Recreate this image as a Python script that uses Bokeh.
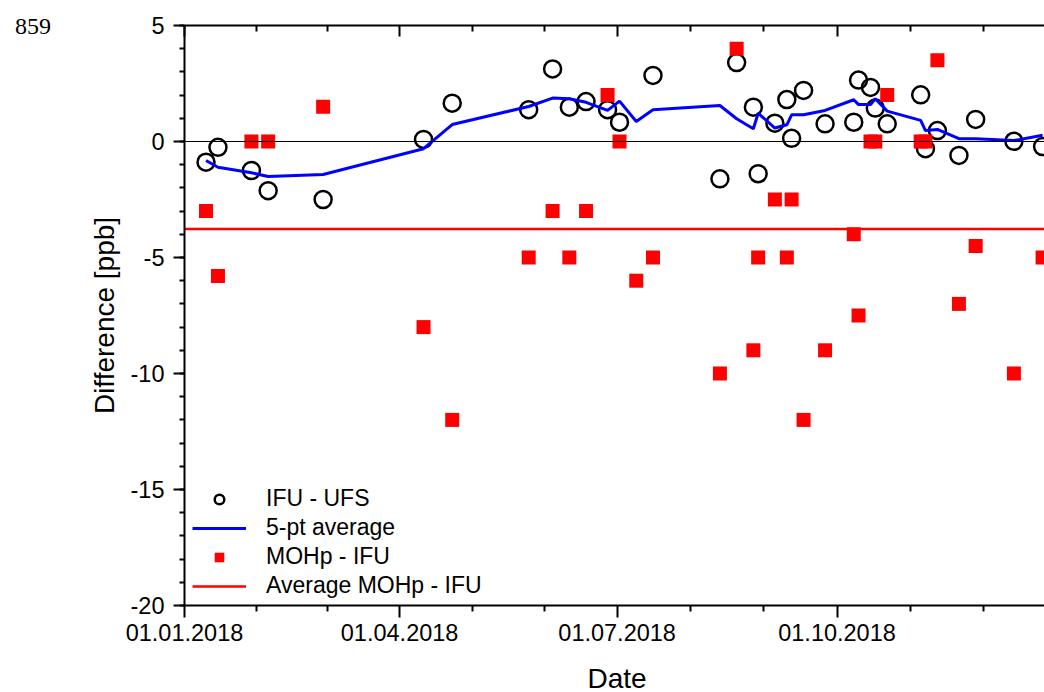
from datetime import datetime, timedelta

import numpy as np
import pandas as pd
from bokeh.embed import file_html
from bokeh.layouts import column
from bokeh.models import (CustomJSTickFormatter, DatetimeAxis, DatetimeTickFormatter, Div,
                          FixedTicker, Legend, LegendItem, Range1d,
                          SingleIntervalTicker, Span)
from bokeh.plotting import figure
from bokeh.resources import INLINE

# ---- data -------------------------------------------------------------
# IFU - UFS differences [ppb]
ifu_ufs_dates = [
    "2018-01-10", "2018-01-15", "2018-01-29", "2018-02-05", "2018-02-28",
    "2018-04-11", "2018-04-23", "2018-05-25", "2018-06-04", "2018-06-11",
    "2018-06-18", "2018-06-27", "2018-07-02", "2018-07-16", "2018-08-13",
    "2018-08-20", "2018-08-27", "2018-08-29", "2018-09-05", "2018-09-10",
    "2018-09-12", "2018-09-17", "2018-09-26", "2018-10-08", "2018-10-10",
    "2018-10-15", "2018-10-17", "2018-10-22", "2018-11-05", "2018-11-07",
    "2018-11-12", "2018-11-21", "2018-11-28", "2018-12-14", "2018-12-26",
]
ifu_ufs_diff = [
    -0.89, -0.25, -1.25, -2.12, -2.5,
    0.09, 1.65, 1.37, 3.13, 1.48,
    1.72, 1.37, 0.83, 2.85, -1.61,
    3.4, 1.48, -1.39, 0.79, 1.81,
    0.14, 2.2, 0.76, 0.83, 2.65,
    2.33, 1.44, 0.76, 2.01, -0.31,
    0.47, -0.6, 0.95, 0.01, -0.22,
]

# 5-point running average of IFU - UFS
avg5_dates = [
    "2018-01-10", "2018-01-15", "2018-01-29", "2018-02-05", "2018-02-28",
    "2018-04-11", "2018-04-23", "2018-05-25", "2018-06-04", "2018-06-11",
    "2018-06-18", "2018-06-27", "2018-07-02", "2018-07-09", "2018-07-16",
    "2018-08-13", "2018-08-20", "2018-08-27", "2018-08-29", "2018-09-05",
    "2018-09-10", "2018-09-12", "2018-09-17", "2018-09-26", "2018-10-08",
    "2018-10-10", "2018-10-15", "2018-10-17", "2018-10-22", "2018-11-05",
    "2018-11-07", "2018-11-12", "2018-11-21", "2018-11-28", "2018-12-14",
    "2018-12-26",
]
avg5_diff = [
    -0.82, -1.11, -1.35, -1.51, -1.42,
    -0.31, 0.73, 1.51, 1.87, 1.84,
    1.69, 1.34, 1.74, 0.86, 1.37,
    1.55, 0.98, 0.55, 1.22, 0.58,
    0.72, 1.15, 1.15, 1.34, 1.80,
    1.59, 1.59, 1.84, 1.31, 0.91,
    0.47, 0.52, 0.12, 0.12, 0.04,
    0.27,
]

# MOHp - IFU differences [ppb]
mohp_dates = [
    "2018-01-10", "2018-01-15", "2018-01-29", "2018-02-05", "2018-02-28",
    "2018-04-11", "2018-04-23", "2018-05-25", "2018-06-04", "2018-06-11",
    "2018-06-18", "2018-06-27", "2018-07-02", "2018-07-09", "2018-07-16",
    "2018-08-13", "2018-08-20", "2018-08-27", "2018-08-29", "2018-09-05",
    "2018-09-10", "2018-09-12", "2018-09-17", "2018-09-26", "2018-10-08",
    "2018-10-10", "2018-10-15", "2018-10-17", "2018-10-22", "2018-11-05",
    "2018-11-07", "2018-11-12", "2018-11-21", "2018-11-28", "2018-12-14",
    "2018-12-26",
]
mohp_diff = [
    -3.0, -5.8, 0.0, 0.0, 1.5,
    -8.0, -12.0, -5.0, -3.0, -5.0,
    -3.0, 2.0, 0.0, -6.0, -5.0,
    -10.0, 4.0, -9.0, -5.0, -2.5,
    -5.0, -2.5, -12.0, -9.0, -4.0,
    -7.5, 0.0, 0.0, 2.0, 0.0,
    0.0, 3.5, -7.0, -4.5, -10.0,
    -5.0,
]

major_tick_dates = ["2018-01-01", "2018-04-01", "2018-07-01", "2018-10-01", "2019-01-01"]

# ---- helpers ----------------------------------------------------------
def to_ms(d):
    return pd.Timestamp(d).value / 1e6

ifu_x = pd.to_datetime(ifu_ufs_dates)
avg_x = pd.to_datetime(avg5_dates)
mohp_x = pd.to_datetime(mohp_dates)
mohp_mean = float(np.mean(mohp_diff))

major_ms = [to_ms(d) for d in major_tick_dates]
minor_ms = []
for a, b in zip(major_ms[:-1], major_ms[1:]):
    minor_ms += [a + (b - a) / 3.0, a + 2.0 * (b - a) / 3.0]

x_start = datetime(2018, 1, 1)
x_end = x_start + timedelta(days=359.8)

FONT = "Liberation Sans"

p = figure(
    width=1044, height=692,
    x_axis_type="datetime",
    x_range=Range1d(x_start, x_end),
    y_range=Range1d(-20, 5),
    output_backend="svg",
    toolbar_location=None,
    min_border_left=184, min_border_right=0,
    min_border_top=25, min_border_bottom=87,
    background_fill_color="white",
    border_fill_color="white",
)
p.outline_line_color = None
p.xgrid.visible = False
p.ygrid.visible = False

date_fmt = DatetimeTickFormatter(
    milliseconds="%d.%m.%Y", seconds="%d.%m.%Y", minsec="%d.%m.%Y",
    minutes="%d.%m.%Y", hourmin="%d.%m.%Y", hours="%d.%m.%Y",
    days="%d.%m.%Y", months="%d.%m.%Y", years="%d.%m.%Y",
)
x_ticker = FixedTicker(ticks=major_ms, minor_ticks=minor_ms)

# bottom axis (its title is set below the tick labels as a separate text)
xa = p.xaxis[0]
xa.ticker = x_ticker
xa.formatter = date_fmt
xa.major_label_text_font = FONT
xa.major_label_text_font_size = "23.5px"
xa.major_label_text_color = "black"
xa.major_label_standoff = 6
xa.major_tick_in = 0
xa.major_tick_out = 12
xa.minor_tick_in = 0
xa.minor_tick_out = 6
xa.axis_line_width = 2
xa.major_tick_line_width = 2
xa.minor_tick_line_width = 2

# left axis
ya = p.yaxis[0]
ya.ticker = SingleIntervalTicker(interval=5, num_minor_ticks=5)
ya.formatter = CustomJSTickFormatter(code="return tick.toFixed(0);")
ya.axis_label = "Difference [ppb]"
ya.axis_label_text_font = FONT
ya.axis_label_text_font_size = "28px"
ya.axis_label_text_font_style = "normal"
ya.axis_label_text_color = "black"
ya.axis_label_standoff = 8
ya.major_label_text_font = FONT
ya.major_label_text_font_size = "23.5px"
ya.major_label_text_color = "black"
ya.major_label_standoff = 9
ya.major_tick_in = 0
ya.major_tick_out = 11
ya.minor_tick_in = 0
ya.minor_tick_out = 5
ya.axis_line_width = 2
ya.major_tick_line_width = 2
ya.minor_tick_line_width = 2

# top frame line with inward ticks, labels not drawn
top = DatetimeAxis(
    ticker=x_ticker, formatter=date_fmt,
    major_label_text_font_size="8px", major_label_text_color=None,
    major_label_standoff=0,
    major_tick_in=11, major_tick_out=0,
    minor_tick_in=6, minor_tick_out=0,
    axis_line_width=2, major_tick_line_width=2, minor_tick_line_width=2,
)
p.add_layout(top, "above")

# zero reference line
p.add_layout(Span(location=0, dimension="width", line_color="black", line_width=1))

circ = p.scatter(ifu_x, ifu_ufs_diff, marker="circle", size=17,
                 fill_color=None, line_color="black", line_width=2.5)
avg_line = p.line(avg_x, avg5_diff, line_color="#0000FF", line_width=3)
sq = p.scatter(mohp_x, mohp_diff, marker="square", size=14,
               fill_color="#FF0000", line_color=None)
mean_line = p.line([x_start, x_end], [mohp_mean, mohp_mean],
                   line_color="#FF0000", line_width=2.5)

legend = Legend(
    items=[
        LegendItem(label="IFU - UFS", renderers=[circ]),
        LegendItem(label="5-pt average", renderers=[avg_line]),
        LegendItem(label="MOHp - IFU", renderers=[sq]),
        LegendItem(label="Average MOHp - IFU", renderers=[mean_line]),
    ],
    location=(8, 6),
    glyph_width=54, glyph_height=24, label_height=24,
    label_standoff=20, spacing=2, padding=0, margin=0,
    border_line_color=None, background_fill_alpha=0,
    label_text_font=FONT, label_text_font_size="23px", label_text_color="black",
)
p.add_layout(legend)

# page number in the upper left corner, laid over the figure's border
page_no = Div(
    text='<span style="font-family: \'Liberation Serif\'; font-size: 24px; '
         'line-height: 24px; color: black;">859</span>',
    width=40, height=24,
    styles={"position": "absolute", "left": "10px", "top": "9px",
            "line-height": "24px", "z-index": "5"},
)

# x-axis title
x_title = Div(
    text='<span style="font-family: \'Liberation Sans\'; font-size: 28px; '
         'line-height: 24px; color: black;">Date</span>',
    width=200, height=24,
    styles={"position": "absolute", "left": "512px", "top": "662px",
            "text-align": "center", "line-height": "24px", "z-index": "5"},
)

layout = column(p, page_no, x_title)
open("out.html", "w").write(file_html(layout, INLINE))
